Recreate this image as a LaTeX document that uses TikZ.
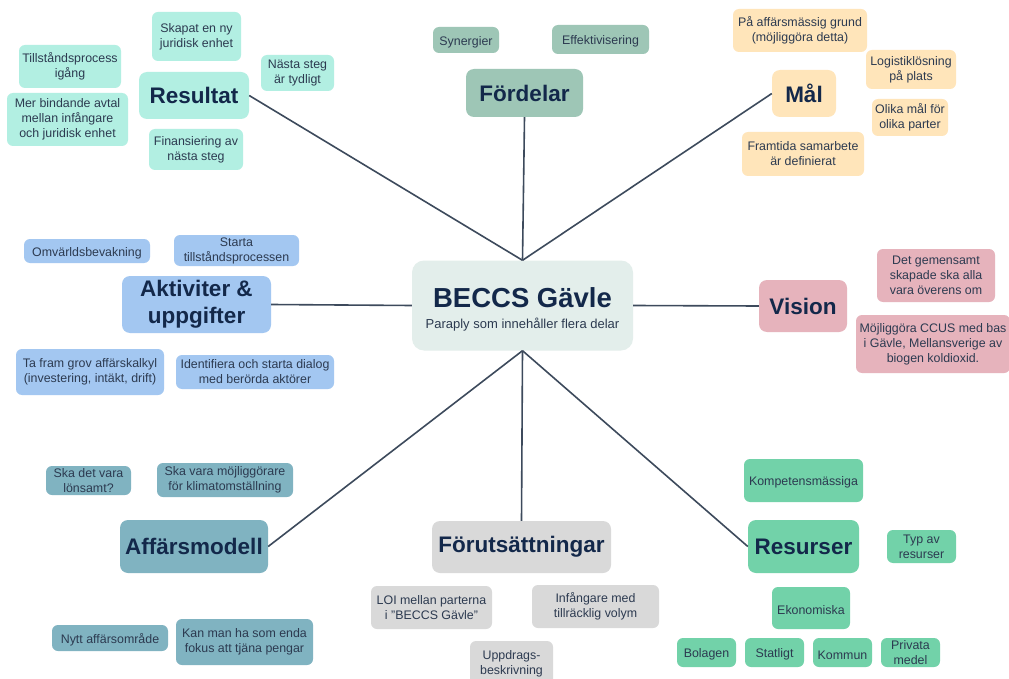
\documentclass[tikz,border=0pt]{standalone}
\usepackage{fontspec}
\setmainfont{Liberation Sans}
\definecolor{headtext}{HTML}{13284A}
\definecolor{smalltext}{HTML}{2C3A50}
\definecolor{linecol}{HTML}{3D4A5C}
\definecolor{centC}{HTML}{E3EEEB}
\definecolor{resC}{HTML}{B2EFE2}
\definecolor{forC}{HTML}{9EC6B6}
\definecolor{malC}{HTML}{FFE5BA}
\definecolor{aktC}{HTML}{A3C7F1}
\definecolor{visC}{HTML}{E6B3BC}
\definecolor{affC}{HTML}{80B3C1}
\definecolor{futC}{HTML}{D9D9D9}
\definecolor{rsuC}{HTML}{72D2A9}
\begin{document}
\begin{tikzpicture}[x=1pt,y=-1pt,
  sz/.style 2 args={minimum width=#1pt, minimum height=#2pt},
  box/.style={rounded corners=6pt, align=center, inner sep=0pt, text=smalltext,
    font=\fontsize{12.4}{15}\selectfont,
    execute at begin node={\rule{0pt}{13.5pt}}},
  head/.style={rounded corners=8pt, align=center, inner sep=0pt, text=headtext,
    font=\fontsize{22.5}{27}\selectfont\bfseries},
  conn/.style={draw=linecol, line width=1.6pt}]
\useasboundingbox (0,0) rectangle (1009,679);
\clip (0,0) rectangle (1009,679);
\fill[white] (0,0) rectangle (1009,679);

% centre
\node[rounded corners=12pt, fill=centC, sz={221}{90}, inner sep=0pt] (c) at (522.5,305.5) {};
\node[anchor=base, inner sep=0pt, text=headtext, font=\fontsize{27.5}{30}\selectfont\bfseries] (ctitle) at (522.5,307) {BECCS Gävle};
\node[anchor=base, inner sep=0pt, text=smalltext, font=\fontsize{13}{15}\selectfont] (csub) at (522.5,328) {Paraply som innehåller flera delar};

% Resultat
\node[head, fill=resC, sz={110}{47}] (res) at (194,95.5) {Resultat};
\node[box, fill=resC, sz={89}{49}] (skapat) at (196.5,36.5) {Skapat en ny\\juridisk enhet};
\node[box, fill=resC, sz={73}{36}] (nasta) at (297.5,73) {Nästa steg\\är tydligt};
\node[box, fill=resC, sz={102}{43}] (tillst) at (70,66.5) {Tillståndsprocess\\igång};
\node[box, fill=resC, sz={121}{53}] (merbind) at (67.5,119.5) {Mer bindande avtal\\mellan infångare\\och juridisk enhet};
\node[box, fill=resC, sz={94}{41}] (finans) at (196,149.5) {Finansiering av\\nästa steg};

% Fördelar
\node[head, fill=forC, sz={117}{48}] (ford) at (524.5,93) {Fördelar};
\node[box, fill=forC, sz={66}{26}] (syn) at (466,40) {Synergier};
\node[box, fill=forC, sz={97}{29}] (eff) at (600.5,39.5) {Effektivisering};

% Mål
\node[head, fill=malC, sz={64}{47}] (mal) at (804,93.5) {Mål};
\node[box, fill=malC, sz={134}{43}] (paaff) at (800,30.5) {På affärsmässig grund\\(möjliggöra detta)};
\node[box, fill=malC, sz={90}{39}] (logist) at (911,69.5) {Logistiklösning\\på plats};
\node[box, fill=malC, sz={76}{37}] (olika) at (910,117.5) {Olika mål för\\olika parter};
\node[box, fill=malC, sz={122}{44}] (framt) at (803,154) {Framtida samarbete\\är definierat};

% Aktiviter
\node[head, fill=aktC, sz={149}{57}] (akt) at (196.5,304.5) {Aktiviter \&\\uppgifter};
\node[box, fill=aktC, sz={126}{24}] (omv) at (87,251) {Omvärldsbevakning};
\node[box, fill=aktC, sz={125}{31}] (starta) at (236.5,250.5) {Starta\\tillståndsprocessen};
\node[box, fill=aktC, sz={148}{46}] (tafram) at (90,372) {Ta fram grov affärskalkyl\\(investering, intäkt, drift)};
\node[box, fill=aktC, sz={158}{34}] (ident) at (255,372) {Identifiera och starta dialog\\med berörda aktörer};

% Vision
\node[head, fill=visC, sz={88}{52}] (vis) at (803,306) {Vision};
\node[box, fill=visC, sz={118}{53}] (detgem) at (936,275.5) {Det gemensamt\\skapade ska alla\\vara överens om};
\node[box, fill=visC, sz={154}{58}] (mojl) at (933,344) {Möjliggöra CCUS med bas\\i Gävle, Mellansverige av\\biogen koldioxid.};

% Affärsmodell
\node[head, fill=affC, sz={148}{53}] (aff) at (194,546.5) {Affärsmodell};
\node[box, fill=affC, sz={85}{29}] (skadet) at (88.5,480.5) {Ska det vara\\lönsamt?};
\node[box, fill=affC, sz={136}{34}] (skavara) at (225,480) {Ska vara möjliggörare\\för klimatomställning};
\node[box, fill=affC, sz={116}{26}] (nytt) at (110,638) {Nytt affärsområde};
\node[box, fill=affC, sz={137}{46}] (kanman) at (244.5,642) {Kan man ha som enda\\fokus att tjäna pengar};

% Förutsättningar
\node[head, fill=futC, sz={179}{52}] (fore) at (521.5,547) {Förutsättningar};
\node[box, fill=futC, sz={121}{43}] (loi) at (431.5,607.5) {LOI mellan parterna\\i "BECCS Gävle"};
\node[box, fill=futC, sz={127}{43}] (infang) at (595.5,606.5) {Infångare med\\tillräcklig volym};
\node[box, fill=futC, sz={83}{45}] (uppdr) at (511.5,663.5) {Uppdrags-\\beskrivning};

% Resurser
\node[head, fill=rsuC, sz={111}{53}] (rsu) at (803.5,546.5) {Resurser};
\node[box, fill=rsuC, sz={119}{43}] (komp) at (803.5,480.5) {Kompetensmässiga};
\node[box, fill=rsuC, sz={69}{33}] (typav) at (921.5,546.5) {Typ av\\resurser};
\node[box, fill=rsuC, sz={78}{42}] (ekon) at (811,608) {Ekonomiska};
\node[box, fill=rsuC, sz={59}{29}] (bolag) at (706.5,652.5) {Bolagen};
\node[box, fill=rsuC, sz={59}{29}] (statl) at (774.5,652.5) {Statligt};
\node[box, fill=rsuC, sz={59}{29}] (kommun) at (842.5,652.5) {Kommun};
\node[box, fill=rsuC, sz={59}{29}] (privata) at (910.5,652.5) {Privata\\medel};

% connectors
\draw[conn] (c.north) -- (res.east);
\draw[conn] (c.north) -- (ford.south);
\draw[conn] (c.north) -- (mal.west);
\draw[conn] (c.west) -- (akt.east);
\draw[conn] (c.east) -- (vis.west);
\draw[conn] (c.south) -- (aff.east);
\draw[conn] (c.south) -- (fore.north);
\draw[conn] (c.south) -- (rsu.west);
\end{tikzpicture}
\end{document}
